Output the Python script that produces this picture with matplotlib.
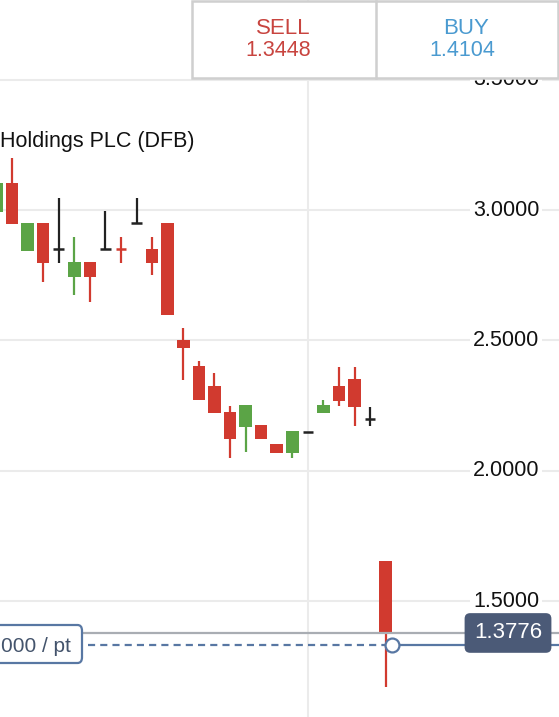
import matplotlib.pyplot as plt
from matplotlib.patches import Rectangle, FancyBboxPatch
from matplotlib.transforms import blended_transform_factory

plt.rcParams['font.family'] = ['Liberation Sans', 'DejaVu Sans']

# candle data
opens = [2.992, 3.104, 2.843, 2.950, 2.850, 2.743, 2.800, 2.850, 2.851, 2.950, 2.850, 2.950, 2.501,
         2.402, 2.325, 2.225, 2.168, 2.175, 2.102, 2.068, 2.148, 2.221, 2.325, 2.352, 2.198, 1.654]
highs = [3.104, 3.199, 2.950, 2.950, 3.046, 2.896, 2.800, 2.996, 2.896, 3.046, 2.896, 2.950, 2.547,
         2.421, 2.375, 2.248, 2.252, 2.175, 2.102, 2.152, 2.148, 2.271, 2.398, 2.398, 2.244, 1.654]
lows = [2.992, 2.946, 2.843, 2.724, 2.797, 2.674, 2.647, 2.850, 2.797, 2.950, 2.751, 2.597, 2.348,
        2.271, 2.221, 2.049, 2.072, 2.122, 2.068, 2.049, 2.148, 2.221, 2.248, 2.171, 2.171, 1.170]
closes = [3.104, 2.946, 2.950, 2.797, 2.850, 2.800, 2.743, 2.850, 2.849, 2.950, 2.797, 2.597, 2.471,
          2.271, 2.221, 2.122, 2.252, 2.122, 2.068, 2.152, 2.148, 2.252, 2.267, 2.244, 2.198, 1.3776]

price_ticks = [1.5, 2.0, 2.5, 3.0, 3.5]
tick_labels = ["1.5000", "2.0000", "2.5000", "3.0000", "3.5000"]
sell_price = "1.3448"
buy_price = "1.4104"
current_price = 1.3776
order_level = 1.331
title = "Holdings PLC (DFB)"
stake_label = "000 / pt"

RED = "#d13a2f"
GREEN = "#5ba446"
BLACK = "#222222"
W, H = 559, 717


def fx(px):
    return px / W


def fy(py):
    return 1 - py / H


fig = plt.figure(figsize=(5.59, 7.17), dpi=100)
ax = fig.add_axes([0, 0, 1, 1])
ax.set_xlim(0.229, 36.13)
ax.set_ylim(1.0553, 3.8055)
for s in ax.spines.values():
    s.set_visible(False)
ax.set_xticks([20])
ax.set_yticks(price_ticks)
ax.tick_params(length=0, labelleft=False, labelbottom=False)
ax.grid(True, color="#ebebeb", lw=1.5, zorder=0)

# candles
for i in range(len(opens)):
    o, h, l, c = opens[i], highs[i], lows[i], closes[i]
    if abs(c - o) < 0.001:
        col = BLACK
    elif c > o:
        col = GREEN
    else:
        col = RED
    ax.vlines(i, l, h, color=col, lw=1.6, zorder=3)
    if abs(c - o) < 0.004:
        ax.hlines((o + c) / 2, i - 0.34, i + 0.34, color=col, lw=1.8, zorder=3)
    else:
        ax.bar(i, abs(c - o), bottom=min(o, c), width=0.8, color=col, zorder=3, linewidth=0)

# y labels inside the plot
tr = blended_transform_factory(ax.transAxes, ax.transData)
for v, lab in zip(price_ticks, tick_labels):
    ax.text(fx(506), v, lab, transform=tr, ha="center", va="center", fontsize=15.5,
            color="#111111", zorder=4,
            bbox=dict(boxstyle="square,pad=0.15", fc="white", ec="none"))

# current price line and order line
ax.hlines(current_price, 5.5, 36.2, color="#a9adb3", lw=1.6, zorder=5)
ax.plot([5.9, 25.4], [order_level, order_level], color="#5877a3", lw=1.6,
        dashes=(3.2, 2.3), zorder=5)
ax.plot([25.4, 36.2], [order_level, order_level], color="#5877a3", lw=1.6, zorder=5)
ax.plot([25.4], [order_level], marker="o", ms=10, mfc="white", mec="#5877a3", mew=1.6, zorder=6)

ax.text(fx(508), current_price, "%.4f" % current_price, transform=tr, ha="center", va="center",
        fontsize=16, color="white", zorder=7,
        bbox=dict(boxstyle="round,pad=0.42,rounding_size=0.25", fc="#4b5a77", ec="none"))

# stake box on the left
ax.add_patch(FancyBboxPatch((fx(-20), fy(663)), fx(102), fy(625) - fy(663),
                            boxstyle="round,pad=0,rounding_size=0.008",
                            transform=ax.transAxes, fc="white", ec="#5877a3", lw=1.6, zorder=7))
ax.text(fx(1), fy(647), stake_label, transform=ax.transAxes, ha="left", va="center",
        fontsize=15, color="#44546c", zorder=8)

# title
ax.text(fx(0), fy(147), title, transform=ax.transAxes, ha="left", va="baseline",
        fontsize=15.5, color="#111111", zorder=4)

# sell / buy box
ax.add_patch(Rectangle((fx(192), fy(78)), fx(558) - fx(192), fy(1) - fy(78),
                       transform=ax.transAxes, fc="white", ec="#cfcfcf", lw=1.8, zorder=9))
ax.plot([fx(376), fx(376)], [fy(1), fy(78)], transform=ax.transAxes, color="#cfcfcf", lw=1.8,
        zorder=10)
ax.text(fx(283), fy(28), "SELL", transform=ax.transAxes, ha="center", va="center",
        fontsize=16, color="#c8443f", zorder=10)
ax.text(fx(278), fy(51), sell_price, transform=ax.transAxes, ha="center", va="center",
        fontsize=15.5, color="#c8443f", zorder=10)
ax.text(fx(466), fy(28), "BUY", transform=ax.transAxes, ha="center", va="center",
        fontsize=16, color="#4a9ad0", zorder=10)
ax.text(fx(462), fy(51), buy_price, transform=ax.transAxes, ha="center", va="center",
        fontsize=15.5, color="#4a9ad0", zorder=10)

fig.savefig("out.png", dpi=100)
